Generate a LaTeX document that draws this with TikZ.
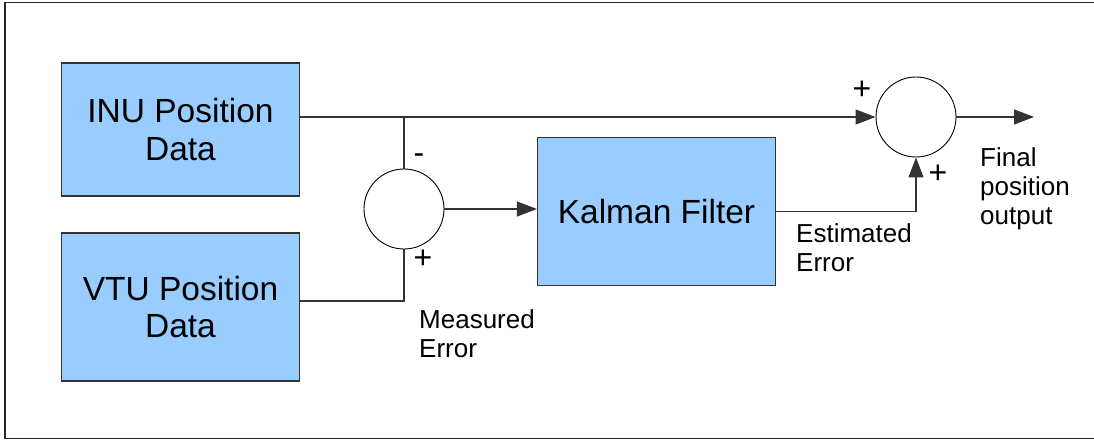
\documentclass[tikz,border=0pt]{standalone}
\usepackage{fontspec}
\setmainfont{Liberation Sans}
\usetikzlibrary{arrows.meta}
\definecolor{boxblue}{HTML}{99CCFF}
\definecolor{edge}{HTML}{333333}
\begin{document}
\begin{tikzpicture}[x=1pt,y=-1pt,
  block/.style={draw=edge, line width=1.3pt, fill=boxblue, align=center,
    font=\fontsize{33.5}{37.5}\selectfont, inner sep=0pt},
  junction/.style={circle, draw=black, line width=0.9pt, minimum size=80pt, inner sep=0pt},
  sign/.style={font=\fontsize{32}{32}\selectfont, inner sep=0pt},
  note/.style={font=\fontsize{26}{29}\selectfont, align=left, anchor=north west, inner sep=0pt},
  wire/.style={draw=edge, line width=1.2pt},
  feed/.style={wire, -{Triangle[length=20pt,width=15pt]}}
]
\useasboundingbox (0,0) rectangle (1094,441);
% frame (open on the right, cut by the page edge)
\draw[line width=1.3pt, draw=black!85] (1100,2.5) -- (5,2.5) -- (5,438.3) -- (1100,438.3);

% blocks
\node[block, minimum width=238pt, minimum height=133pt] (inu) at (180.5,129.5) {INU Position\\Data};
\node[block, minimum width=238pt, minimum height=148pt] (vtu) at (180.5,307) {VTU Position\\Data};
\node[block, minimum width=238pt, minimum height=148pt] (kal) at (656.5,211.7) {Kalman Filter};

% summing junctions
\node[junction] (s1) at (404,209) {};
\node[junction] (s2) at (916,117) {};
\coordinate (out) at (1034,117);

% signals
\draw[feed] (inu.east |- s2.west) -- (s2.west);
\draw[wire] (s1.north) -- (s1.north |- s2.west);
\draw[wire] ([yshift=6pt]vtu.east) -| (s1.south);
\draw[feed] (s1.east) -- (s1.east -| kal.west);
\draw[feed] (kal.east) -| (s2.south);
\draw[feed] (s2.east) -- (out);

% signs
\node[sign] (m1) at (419,159) {-};
\node[sign] (p1) at (423,259) {+};
\node[sign] (p2) at (862,90) {+};
\node[sign] (p3) at (938,174) {+};

% signal names
\node[note] (meas) at (419,309) {Measured\\Error};
\node[note] (est) at (796,223.3) {Estimated\\Error};
\node[note] (fin) at (980,147) {Final\\position\\output};
\end{tikzpicture}
\end{document}
